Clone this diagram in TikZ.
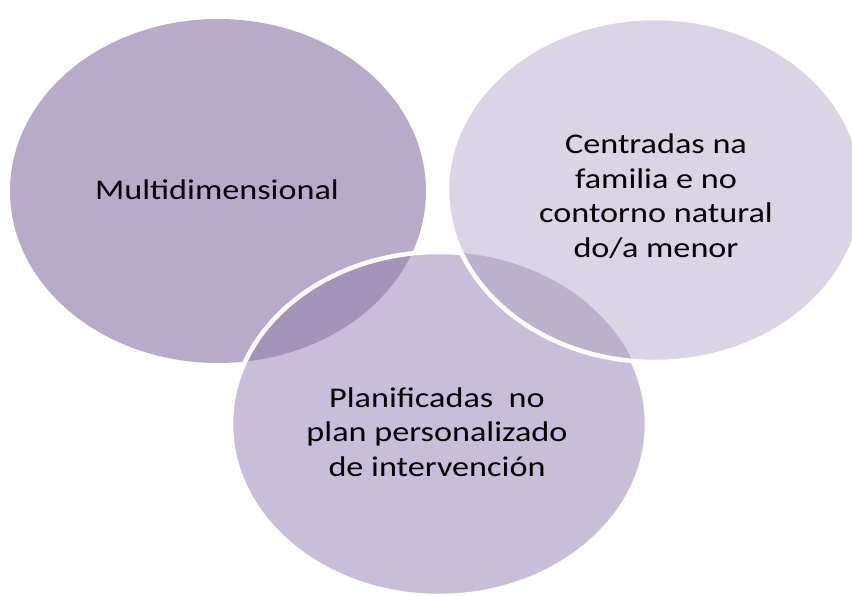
\documentclass[tikz,border=0pt]{standalone}
\usepackage{fontspec}
\setmainfont{Carlito}
\definecolor{multifill}{HTML}{B8ABCA}
\definecolor{centfill}{HTML}{DAD4E5}
\definecolor{planfill}{HTML}{C8BED9}
\definecolor{leftover}{HTML}{A494BA}
\definecolor{rightover}{HTML}{BBB1CC}
\begin{document}
\begin{tikzpicture}[x=1pt,y=-1pt,
        lbl/.style={align=center,font=\fontsize{28.5}{34.5}\selectfont,xscale=1.2,transform shape},
        rim/.style={draw=white,line width=4.5pt}]
    \useasboundingbox (0,0) rectangle (852,595);
    \clip (0,0) rectangle (852,595);
    \coordinate (cl) at (218,191);
    \coordinate (cr) at (655,190);
    \coordinate (cb) at (439,424);
    % left and bottom discs
    \fill[multifill] (cl) ellipse [x radius=208,y radius=172];
    \fill[planfill] (cb) ellipse [x radius=208,y radius=172];
    \begin{scope}
        \clip (cl) ellipse [x radius=208,y radius=172];
        \fill[leftover] (cb) ellipse [x radius=208,y radius=172];
    \end{scope}
    \draw[rim] (cb) ellipse [x radius=208,y radius=172];
    % right disc on top
    \fill[centfill] (cr) ellipse [x radius=208,y radius=172];
    \begin{scope}
        \clip (cr) ellipse [x radius=208,y radius=172];
        \fill[rightover] (cb) ellipse [x radius=208,y radius=172];
    \end{scope}
    \draw[rim] (cr) ellipse [x radius=208,y radius=172];
    \node[lbl] (multi) at (217,190) {Multidimensional};
    \node[lbl] (centradas) at (656,196) {Centradas na\\familia e no\\contorno natural\\do/a menor};
    \node[lbl] (planificadas) at (437,432) {Planificadas~ no\\plan personalizado\\de intervención};
\end{tikzpicture}
\end{document}
